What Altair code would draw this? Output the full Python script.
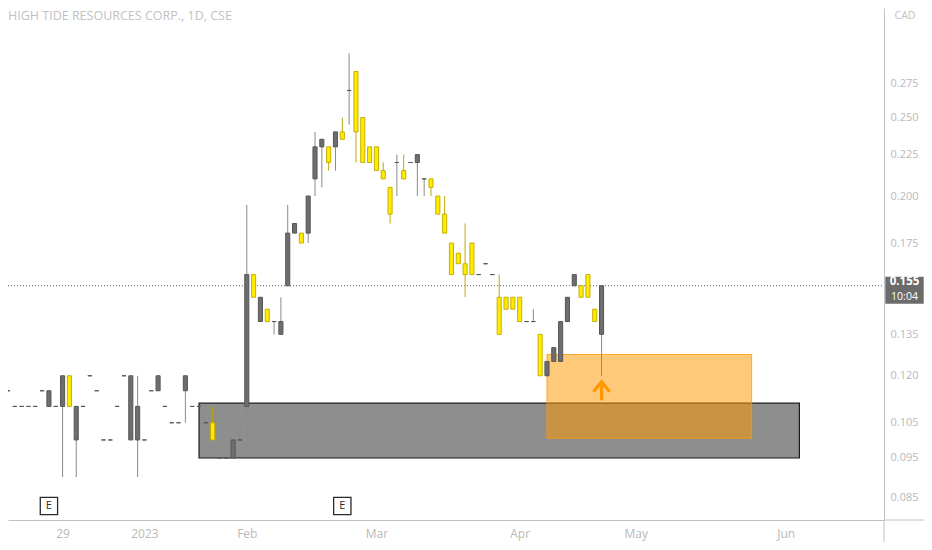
import altair as alt
import pandas as pd

# ---------------- data ----------------
title_text = "HIGH TIDE RESOURCES CORP., 1D, CSE"
currency = "CAD"

opens = [0.115, 0.110, 0.110, 0.110, 0.110, 0.115, 0.110, 0.110, 0.110, 0.120,
         0.100, 0.110, 0.120, 0.115, 0.100, 0.100, 0.110, 0.120, 0.100, 0.100,
         0.100, 0.115, 0.115, 0.110, 0.105, 0.105, 0.115, 0.110, 0.110, 0.105,
         0.105, 0.095, 0.095, 0.095, 0.100, 0.110, 0.160, 0.140, 0.145, 0.140,
         0.135, 0.155, 0.180, 0.180, 0.180, 0.210, 0.230, 0.230, 0.230, 0.240,
         0.270, 0.285, 0.250, 0.230, 0.230, 0.215, 0.205, 0.220, 0.215, 0.220,
         0.220, 0.210, 0.210, 0.200, 0.190, 0.175, 0.170, 0.165, 0.175, 0.160,
         0.165, 0.160, 0.150, 0.150, 0.150, 0.150, 0.140, 0.140, 0.135, 0.120,
         0.125, 0.125, 0.140, 0.155, 0.155, 0.160, 0.145, 0.135]
highs = [0.115, 0.110, 0.110, 0.110, 0.110, 0.115, 0.115, 0.110, 0.120, 0.120,
         0.110, 0.110, 0.120, 0.115, 0.100, 0.100, 0.110, 0.120, 0.120, 0.120,
         0.100, 0.115, 0.120, 0.110, 0.105, 0.105, 0.120, 0.110, 0.110, 0.105,
         0.110, 0.095, 0.095, 0.100, 0.105, 0.195, 0.160, 0.150, 0.145, 0.140,
         0.150, 0.195, 0.185, 0.180, 0.200, 0.240, 0.235, 0.230, 0.240, 0.250,
         0.300, 0.285, 0.250, 0.230, 0.230, 0.220, 0.205, 0.225, 0.225, 0.220,
         0.225, 0.210, 0.210, 0.200, 0.200, 0.175, 0.170, 0.185, 0.175, 0.160,
         0.165, 0.160, 0.160, 0.150, 0.150, 0.150, 0.140, 0.145, 0.135, 0.125,
         0.130, 0.140, 0.150, 0.160, 0.155, 0.160, 0.145, 0.155]
lows = [0.115, 0.110, 0.110, 0.110, 0.110, 0.115, 0.110, 0.110, 0.090, 0.110,
        0.090, 0.110, 0.120, 0.115, 0.100, 0.100, 0.110, 0.120, 0.100, 0.090,
        0.100, 0.115, 0.115, 0.110, 0.105, 0.105, 0.105, 0.110, 0.110, 0.105,
        0.100, 0.095, 0.095, 0.095, 0.100, 0.100, 0.150, 0.140, 0.140, 0.135,
        0.135, 0.155, 0.180, 0.175, 0.175, 0.200, 0.205, 0.215, 0.215, 0.235,
        0.245, 0.220, 0.220, 0.220, 0.215, 0.210, 0.185, 0.200, 0.210, 0.220,
        0.200, 0.200, 0.200, 0.190, 0.180, 0.160, 0.165, 0.150, 0.160, 0.160,
        0.165, 0.160, 0.135, 0.145, 0.145, 0.140, 0.140, 0.140, 0.120, 0.120,
        0.125, 0.125, 0.140, 0.155, 0.150, 0.150, 0.140, 0.120]
closes = [0.115, 0.110, 0.110, 0.110, 0.110, 0.115, 0.115, 0.110, 0.120, 0.110,
          0.110, 0.110, 0.120, 0.115, 0.100, 0.100, 0.110, 0.120, 0.120, 0.110,
          0.100, 0.115, 0.120, 0.110, 0.105, 0.105, 0.120, 0.110, 0.110, 0.105,
          0.100, 0.095, 0.095, 0.100, 0.100, 0.160, 0.150, 0.150, 0.140, 0.140,
          0.140, 0.180, 0.185, 0.175, 0.200, 0.230, 0.235, 0.220, 0.240, 0.235,
          0.270, 0.240, 0.220, 0.220, 0.215, 0.210, 0.190, 0.220, 0.210, 0.220,
          0.225, 0.210, 0.205, 0.190, 0.180, 0.160, 0.165, 0.160, 0.160, 0.160,
          0.165, 0.160, 0.135, 0.145, 0.145, 0.140, 0.140, 0.140, 0.120, 0.125,
          0.130, 0.140, 0.150, 0.160, 0.150, 0.150, 0.140, 0.155]

x_tick_idx = [8, 20, 35, 54, 75, 92, 114]
x_tick_labels = ["29", "2023", "Feb", "Mar", "Apr", "May", "Jun"]
y_ticks = [0.275, 0.250, 0.225, 0.200, 0.175, 0.135, 0.120, 0.105, 0.095, 0.085]

last_price = [0.155]
last_time = ["10:04"]
earnings_idx = [6, 49]
signal_idx = [87]
signal_price = [0.115]

gray_zone_x = [28, 116]
gray_zone_y = [0.095, 0.111]
orange_zone_x = [79, 109]
orange_zone_y = [0.1005, 0.1275]

# ---------------- layout / style ----------------
W, H = 876, 512
PAD_R, PAD_B = 40, 22
UP_FILL, UP_STROKE, UP_WICK = "#6e6e6e", "#565656", "#8a8a8a"
DN_FILL, DN_STROKE, DN_WICK = "#ffec00", "#c6b000", "#bfa800"
AXIS_TXT = "#b9b9b9"
AXIS_LINE = "#c2c2c2"
FONT = "Open Sans"

df = pd.DataFrame({"open": opens, "high": highs, "low": lows, "close": closes})
df["idx"] = range(len(df))
df["bx1"] = df["idx"] - 0.3
df["bx2"] = df["idx"] + 0.3
df["blo"] = df[["open", "close"]].min(axis=1)
df["bhi"] = df[["open", "close"]].max(axis=1)

xscale = alt.Scale(domain=[0, 128.4], nice=False, zero=False)
yscale = alt.Scale(type="log", domain=[0.07965, 0.3413], nice=False, zero=False)

label_expr = "".join(
    f"datum.value == {v} ? '{t}' : " for v, t in zip(x_tick_idx, x_tick_labels)
) + "''"

xaxis = alt.Axis(values=x_tick_idx, labelExpr=label_expr, title=None, grid=False,
                 ticks=False, domainColor=AXIS_LINE, labelColor=AXIS_TXT,
                 labelFont="Liberation Sans Narrow, Open Sans, sans-serif",
                 labelFontSize=12, labelPadding=8, labelOverlap=False)
yaxis = alt.Axis(orient="right", values=y_ticks, format=".3f", title=None, grid=False,
                 ticks=False, domainColor=AXIS_LINE, labelColor=AXIS_TXT,
                 labelFont=FONT, labelFontSize=11, labelPadding=6, labelOverlap=False)

X = lambda f: alt.X(f, scale=xscale, axis=xaxis)
Y = lambda f: alt.Y(f, scale=yscale, axis=yaxis)

up_cond = "datum.close >= datum.open"

gray_zone = alt.Chart(pd.DataFrame({"x1": [gray_zone_x[0]], "x2": [gray_zone_x[1]],
                                    "lo": [gray_zone_y[0]], "hi": [gray_zone_y[1]]})).mark_rect(
    fill="#8e8e8e", stroke="#1c1c1c", strokeWidth=1.2
).encode(x=X("x1:Q"), x2="x2:Q", y=Y("lo:Q"), y2="hi:Q")

orange_zone = alt.Chart(pd.DataFrame({"x1": [orange_zone_x[0]], "x2": [orange_zone_x[1]],
                                      "lo": [orange_zone_y[0]], "hi": [orange_zone_y[1]]})).mark_rect(
    fill="#ff9800", fillOpacity=0.52, stroke="#ff9800", strokeOpacity=0.8, strokeWidth=1
).encode(x=X("x1:Q"), x2="x2:Q", y=Y("lo:Q"), y2="hi:Q")

last_df = pd.DataFrame({"price": last_price, "t": last_time})

price_line = alt.Chart(last_df).mark_rule(color="#5e5e5e", strokeDash=[1, 2], strokeWidth=1).encode(
    x=alt.value(0), x2=alt.value(W), y=Y("price:Q"))

wicks = alt.Chart(df).mark_rule(strokeWidth=1).encode(
    x=X("idx:Q"), y=Y("low:Q"), y2="high:Q",
    color=alt.condition(up_cond, alt.value(UP_WICK), alt.value(DN_WICK)))

bodies = alt.Chart(df).mark_rect(strokeWidth=1).encode(
    x=X("bx1:Q"), x2="bx2:Q", y=Y("blo:Q"), y2="bhi:Q",
    fill=alt.condition(up_cond, alt.value(UP_FILL), alt.value(DN_FILL)),
    stroke=alt.condition(up_cond, alt.value(UP_STROKE), alt.value(DN_STROKE)))

arrow_path = "M0,1 L0,-0.95 M-0.85,0.1 L0,-0.95 L0.85,0.1"
arrow = alt.Chart(pd.DataFrame({"idx": signal_idx, "price": signal_price})).mark_point(
    shape=arrow_path, size=361, filled=False, stroke="#ff9800", strokeWidth=3.2, opacity=1,
    strokeCap="butt"
).encode(x=X("idx:Q"), y=Y("price:Q"))

earn_df = pd.DataFrame({"idx": earnings_idx, "lab": ["E"] * len(earnings_idx)})
earn_box = alt.Chart(earn_df).mark_point(
    shape="square", size=300, filled=True, color="white", stroke="#2b2b2b",
    strokeWidth=1.3, opacity=1
).encode(x=X("idx:Q"), y=alt.value(H - 14))
earn_txt = alt.Chart(earn_df).mark_text(fontSize=11, color="#2b2b2b", font=FONT,
                                        baseline="middle", align="center").encode(
    x=X("idx:Q"), y=alt.value(H - 14), text="lab:N")

one = pd.DataFrame({"title": [title_text], "cur": [currency]})
title_mark = alt.Chart(one).mark_text(align="left", baseline="middle", fontSize=12.5,
                                      color="#c2c2c2", font=FONT).encode(
    x=alt.value(0), y=alt.value(8), text="title:N")
cad_mark = alt.Chart(one).mark_text(align="center", baseline="middle", fontSize=10.5,
                                    color="#c2c2c2", font=FONT).encode(
    x=alt.value(W + 21), y=alt.value(8), text="cur:N")

box_path = "M-0.8,-0.375 L0.8,-0.375 L0.8,0.75 L-0.8,0.75 Z"
price_box = alt.Chart(last_df).mark_point(
    shape=box_path, size=2304, filled=True, color="#6b6b6b", opacity=1, strokeWidth=0
).encode(x=alt.value(W + 20.5), y=Y("price:Q"))
price_txt = alt.Chart(last_df).mark_text(fontSize=11.5, fontWeight="bold", color="white",
                                         font=FONT, dy=-4, align="center").encode(
    x=alt.value(W + 20.5), y=Y("price:Q"), text=alt.Text("price:Q", format=".3f"))
time_txt = alt.Chart(last_df).mark_text(fontSize=10.5, color="white", font=FONT,
                                        dy=11, align="center").encode(
    x=alt.value(W + 20.5), y=Y("price:Q"), text="t:N")

ext_df = pd.DataFrame({"k": [0]})
ext_v = alt.Chart(ext_df).mark_rule(color=AXIS_LINE, strokeWidth=1).encode(
    x=alt.value(W), y=alt.value(H), y2=alt.value(H + PAD_B))
ext_h = alt.Chart(ext_df).mark_rule(color=AXIS_LINE, strokeWidth=1).encode(
    x=alt.value(W), x2=alt.value(W + PAD_R), y=alt.value(H))

chart = alt.layer(
    gray_zone, orange_zone, price_line, wicks, bodies, arrow,
    earn_box, earn_txt, title_mark, cad_mark, price_box, price_txt, time_txt,
    ext_v, ext_h
).properties(
    width=W, height=H,
    autosize=alt.AutoSizeParams(type="none"),
    padding={"left": 0, "top": 0, "right": PAD_R, "bottom": PAD_B},
    background="white",
).configure_view(stroke=None)

chart.save("out.html", embed_options={"renderer": "svg", "actions": False})
